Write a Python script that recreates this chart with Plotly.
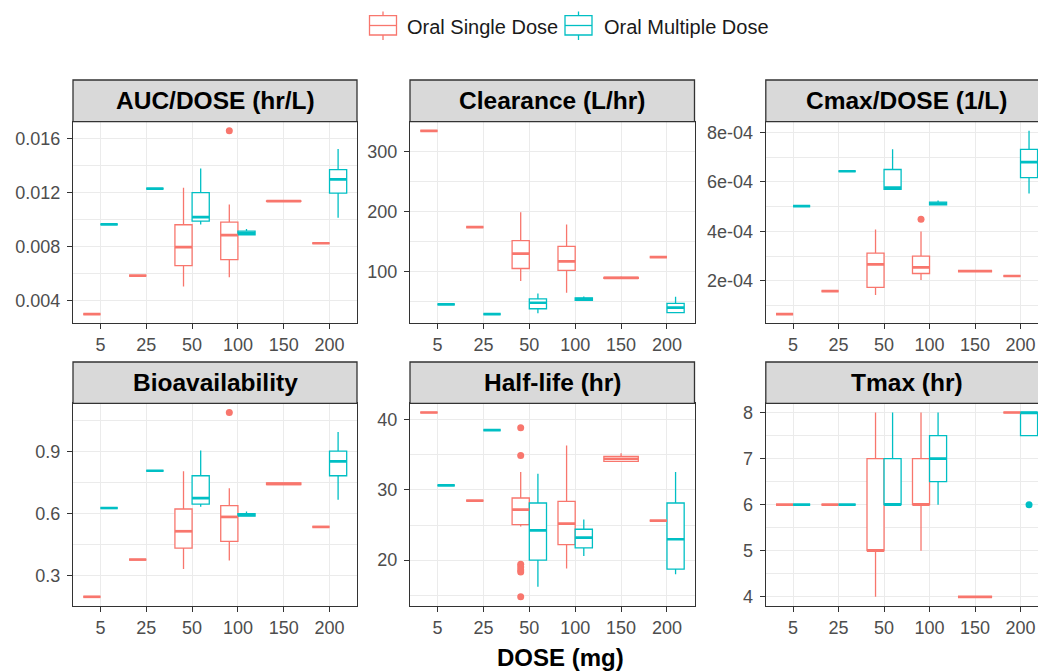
import plotly.graph_objects as go

W, H = 1038, 671

DOSES = [5, 25, 50, 100, 150, 200]
DOSE_LABELS = ["5", "25", "50", "100", "150", "200"]
GROUPS = ["Oral Single Dose", "Oral Multiple Dose"]
COLORS = ["#F8766D", "#00BFC4"]

# (dose, lower whisker, q1, median, q3, upper whisker)
AUC_SD = [(5, .00301, .00301, .00301, .00301, .00301),
          (25, .00586, .00586, .00586, .00586, .00586),
          (50, .00506, .00660, .00796, .00962, .01236),
          (100, .00573, .00704, .00885, .00981, .01112),
          (150, .01132, .01134, .01137, .01139, .01142),
          (200, .00825, .00825, .00825, .00825, .00825)]
AUC_MD = [(5, .00964, .00964, .00964, .00964, .00964),
          (25, .01229, .01229, .01229, .01229, .01229),
          (50, .00964, .00989, .01018, .01200, .01377),
          (100, .00885, .00888, .00900, .00915, .00930),
          (200, .01014, .01196, .01298, .01370, .01521)]
AUC_SD_OUT = [(100, .01656)]
AUC_MD_OUT = []

CL_SD = [(5, 334.3, 334.3, 334.3, 334.3, 334.3),
         (25, 174.0, 174.0, 174.0, 174.0, 174.0),
         (50, 84.0, 105.0, 129.8, 151.4, 198.9),
         (100, 64.5, 102.0, 117.0, 142.0, 178.4),
         (150, 88.0, 88.5, 89.3, 90.3, 91.5),
         (200, 124.0, 124.0, 124.0, 124.0, 124.0)]
CL_MD = [(5, 45.3, 45.3, 45.3, 45.3, 45.3),
         (25, 29.0, 29.0, 29.0, 29.0, 29.0),
         (50, 30.3, 38.0, 48.0, 54.5, 63.5),
         (100, 51.5, 52.0, 54.0, 56.0, 58.5),
         (200, 31.4, 31.4, 40.0, 46.9, 57.9)]
CL_SD_OUT = []
CL_MD_OUT = []

CMAX_SD = [(5, .66e-4, .66e-4, .66e-4, .66e-4, .66e-4),
           (25, 1.59e-4, 1.59e-4, 1.59e-4, 1.59e-4, 1.59e-4),
           (50, 1.43e-4, 1.74e-4, 2.67e-4, 3.12e-4, 4.08e-4),
           (100, 2.04e-4, 2.30e-4, 2.55e-4, 3.00e-4, 4.00e-4),
           (150, 2.40e-4, 2.40e-4, 2.40e-4, 2.40e-4, 2.40e-4),
           (200, 2.20e-4, 2.20e-4, 2.20e-4, 2.20e-4, 2.20e-4)]
CMAX_MD = [(5, 5.02e-4, 5.02e-4, 5.02e-4, 5.02e-4, 5.02e-4),
           (25, 6.43e-4, 6.43e-4, 6.43e-4, 6.43e-4, 6.43e-4),
           (50, 5.70e-4, 5.70e-4, 5.77e-4, 6.50e-4, 7.32e-4),
           (100, 5.05e-4, 5.07e-4, 5.12e-4, 5.18e-4, 5.25e-4),
           (200, 5.53e-4, 6.17e-4, 6.80e-4, 7.31e-4, 8.06e-4)]
CMAX_SD_OUT = [(100, 4.49e-4)]
CMAX_MD_OUT = []

BIO_SD = [(5, .200, .200, .200, .200, .200),
          (25, .379, .379, .379, .379, .379),
          (50, .334, .434, .515, .622, .803),
          (100, .374, .466, .584, .638, .722),
          (150, .737, .739, .743, .747, .750),
          (200, .536, .536, .536, .536, .536)]
BIO_MD = [(5, .627, .627, .627, .627, .627),
          (25, .806, .806, .806, .806, .806),
          (50, .633, .646, .674, .782, .903),
          (100, .586, .588, .594, .600, .610),
          (200, .666, .782, .851, .900, .992)]
BIO_SD_OUT = [(100, 1.086)]
BIO_MD_OUT = []

HL_SD = [(5, 41.04, 41.04, 41.04, 41.04, 41.04),
         (25, 28.47, 28.47, 28.47, 28.47, 28.47),
         (50, 24.8, 25.06, 27.2, 28.85, 32.55),
         (100, 18.8, 22.22, 25.2, 28.38, 36.35),
         (150, 34.07, 34.07, 34.45, 34.78, 35.25),
         (200, 25.63, 25.63, 25.63, 25.63, 25.63)]
HL_MD = [(5, 30.65, 30.65, 30.65, 30.65, 30.65),
         (25, 38.52, 38.52, 38.52, 38.52, 38.52),
         (50, 16.2, 19.99, 24.25, 28.14, 32.3),
         (100, 20.6, 21.74, 23.2, 24.4, 25.78),
         (200, 18.0, 18.71, 22.97, 28.14, 32.55)]
HL_SD_OUT = [(50, 38.86), (50, 34.92), (50, 19.4), (50, 19.0), (50, 18.6), (50, 18.3), (50, 14.77)]
HL_MD_OUT = []

TMAX_SD = [(5, 6, 6, 6, 6, 6),
           (25, 6, 6, 6, 6, 6),
           (50, 4, 5, 5, 7, 8),
           (100, 5, 6, 6, 7, 8),
           (150, 4, 4, 4, 4, 4),
           (200, 8, 8, 8, 8, 8)]
TMAX_MD = [(5, 6, 6, 6, 6, 6),
           (25, 6, 6, 6, 6, 6),
           (50, 6, 6, 6, 7, 8),
           (100, 6, 6.5, 7, 7.5, 8),
           (200, 7.5, 7.5, 8, 8, 8)]
TMAX_SD_OUT = []
TMAX_MD_OUT = [(200, 6)]

AUC_TICKS = [0.004, 0.008, 0.012, 0.016]
AUC_TICKTEXT = ["0.004", "0.008", "0.012", "0.016"]
CL_TICKS = [100, 200, 300]
CL_TICKTEXT = ["100", "200", "300"]
CMAX_TICKS = [2e-4, 4e-4, 6e-4, 8e-4]
CMAX_TICKTEXT = ["2e-04", "4e-04", "6e-04", "8e-04"]
BIO_TICKS = [0.3, 0.6, 0.9]
BIO_TICKTEXT = ["0.3", "0.6", "0.9"]
HL_TICKS = [20, 30, 40]
HL_TICKTEXT = ["20", "30", "40"]
TMAX_TICKS = [4, 5, 6, 7, 8]
TMAX_TICKTEXT = ["4", "5", "6", "7", "8"]

PANELS = [
    ("AUC/DOSE (hr/L)", AUC_SD, AUC_MD, AUC_SD_OUT, AUC_MD_OUT, AUC_TICKS, AUC_TICKTEXT),
    ("Clearance (L/hr)", CL_SD, CL_MD, CL_SD_OUT, CL_MD_OUT, CL_TICKS, CL_TICKTEXT),
    ("Cmax/DOSE (1/L)", CMAX_SD, CMAX_MD, CMAX_SD_OUT, CMAX_MD_OUT, CMAX_TICKS, CMAX_TICKTEXT),
    ("Bioavailability", BIO_SD, BIO_MD, BIO_SD_OUT, BIO_MD_OUT, BIO_TICKS, BIO_TICKTEXT),
    ("Half-life (hr)", HL_SD, HL_MD, HL_SD_OUT, HL_MD_OUT, HL_TICKS, HL_TICKTEXT),
    ("Tmax (hr)", TMAX_SD, TMAX_MD, TMAX_SD_OUT, TMAX_MD_OUT, TMAX_TICKS, TMAX_TICKTEXT),
]

# ---- layout geometry (pixels) ----
COLS_PX = [(73.0, 357.0), (410.0, 694.5), (765.8, 1047.8)]
ROWS_PX = [((80.0, 121.7), (121.7, 323.3)), ((362.0, 403.3), (403.3, 606.0))]
DODGE = 0.75
BORDER = "#333333"
GRID = "#EBEBEB"
FONT = "Liberation Sans"
TICKFONT = dict(family=FONT, size=18, color="#4D4D4D")

fig = go.Figure()
shapes, annotations = [], []


def px_x(v):
    return v / W


def px_y(v):
    return 1 - v / H


for k, (title, sd, md, sd_out, md_out, ticks, ticktext) in enumerate(PANELS, start=1):
    r, c = divmod(k - 1, 3)
    (st, sb), (pt, pb) = ROWS_PX[r]
    left, right = COLS_PX[c]
    xa, ya = f"x{k}", f"y{k}"
    groups = [sd, md]
    outs = [sd_out, md_out]
    present = [set(row[0] for row in g) for g in groups]

    def place(dose, gi):
        idx = DOSES.index(dose) + 1
        both = all(dose in p for p in present)
        if both:
            w = DODGE / 2
            return idx + (-w / 2 if gi == 0 else w / 2), w
        return idx, DODGE

    all_vals = []
    for gi, g in enumerate(groups):
        buckets = {}
        for row in g:
            pos, w = place(row[0], gi)
            buckets.setdefault(w, []).append((pos, row))
            all_vals += list(row[1:])
        for w, items in buckets.items():
            fig.add_trace(go.Box(
                x=[p for p, _ in items],
                lowerfence=[it[1] for _, it in items],
                q1=[it[2] for _, it in items],
                median=[it[3] for _, it in items],
                q3=[it[4] for _, it in items],
                upperfence=[it[5] for _, it in items],
                width=w, whiskerwidth=0, boxpoints=False,
                line=dict(color=COLORS[gi], width=1.3), fillcolor="white",
                xaxis=xa, yaxis=ya, showlegend=False, hoverinfo="skip",
                name=GROUPS[gi]))
    for gi, g in enumerate(groups):
        mx, my = [], []
        for row in g:
            pos, w = place(row[0], gi)
            mx += [pos - w / 2, pos + w / 2, None]
            my += [row[3], row[3], None]
        fig.add_trace(go.Scatter(x=mx, y=my, mode="lines",
                                 line=dict(color=COLORS[gi], width=2.7),
                                 xaxis=xa, yaxis=ya, showlegend=False, hoverinfo="skip"))
        if outs[gi]:
            ox = [place(d, gi)[0] for d, _ in outs[gi]]
            oy = [v for _, v in outs[gi]]
            all_vals += oy
            fig.add_trace(go.Scatter(x=ox, y=oy, mode="markers",
                                     marker=dict(color=COLORS[gi], size=7),
                                     xaxis=xa, yaxis=ya, showlegend=False, hoverinfo="skip"))

    lo, hi = min(all_vals), max(all_vals)
    span = hi - lo
    yrange = [lo - 0.05 * span, hi + 0.05 * span]
    unit = (right - left) / 6.2
    xr_end = 0.4 + (min(right, W) - left) / unit
    step = ticks[1] - ticks[0]

    fig.layout[f"xaxis{k}"] = dict(
        domain=[px_x(left), px_x(min(right, W))], anchor=ya, range=[0.4, xr_end],
        tickmode="array", tickvals=list(range(1, 7)), ticktext=DOSE_LABELS,
        showgrid=True, gridcolor=GRID, gridwidth=1.2, zeroline=False,
        showline=True, linecolor=BORDER, linewidth=1.3, mirror=True,
        ticks="outside", ticklen=5, tickwidth=1.3, tickcolor=BORDER,
        tickfont=TICKFONT, ticklabelstandoff=0, fixedrange=True)
    fig.layout[f"yaxis{k}"] = dict(
        domain=[px_y(pb), px_y(pt)], anchor=xa, range=yrange,
        tickmode="array", tickvals=ticks, ticktext=ticktext,
        minor=dict(tickmode="linear", tick0=ticks[0] - step / 2, dtick=step / 2,
                   showgrid=True, gridcolor=GRID, gridwidth=0.7, ticks=""),
        showgrid=True, gridcolor=GRID, gridwidth=1.2, zeroline=False,
        showline=True, linecolor=BORDER, linewidth=1.3, mirror=(c < 2),
        ticks="outside", ticklen=5, tickwidth=1.3, tickcolor=BORDER,
        tickfont=TICKFONT, ticklabelstandoff=3, fixedrange=True)

    # strip
    shapes.append(dict(type="rect", xref="paper", yref="paper",
                       x0=px_x(left), x1=px_x(right), y0=px_y(sb), y1=px_y(st),
                       fillcolor="#D9D9D9", line=dict(color=BORDER, width=1.3)))
    annotations.append(dict(text=f"<b>{title}</b>", xref="paper", yref="paper",
                            x=px_x((left + right) / 2), y=px_y((st + sb) / 2),
                            xanchor="center", yanchor="middle", showarrow=False,
                            font=dict(family=FONT, size=24.5, color="black")))

# x axis title
annotations.append(dict(text="<b>DOSE (mg)</b>", xref="paper", yref="paper",
                        x=px_x((COLS_PX[0][0] + COLS_PX[2][1]) / 2), y=px_y(657),
                        xanchor="center", yanchor="middle", showarrow=False,
                        font=dict(family=FONT, size=24, color="black")))

# legend (ggplot-style keys)
LEG_KEYS = [(369.5, 396.5, 405.0), (565.0, 592.0, 601.5)]
for gi, (k0, k1, tx) in enumerate(LEG_KEYS):
    col = COLORS[gi]
    cx = (k0 + k1) / 2
    shapes.append(dict(type="rect", xref="paper", yref="paper",
                       x0=px_x(k0), x1=px_x(k1), y0=px_y(35), y1=px_y(15.7),
                       fillcolor="white", line=dict(color=col, width=1.3)))
    shapes.append(dict(type="line", xref="paper", yref="paper",
                       x0=px_x(k0), x1=px_x(k1), y0=px_y(25.5), y1=px_y(25.5),
                       line=dict(color=col, width=1.3)))
    shapes.append(dict(type="line", xref="paper", yref="paper",
                       x0=px_x(cx), x1=px_x(cx), y0=px_y(15.7), y1=px_y(11.5),
                       line=dict(color=col, width=1.3)))
    shapes.append(dict(type="line", xref="paper", yref="paper",
                       x0=px_x(cx), x1=px_x(cx), y0=px_y(35), y1=px_y(40),
                       line=dict(color=col, width=1.3)))
    annotations.append(dict(text=GROUPS[gi], xref="paper", yref="paper",
                            x=px_x(tx), y=px_y(27), xanchor="left", yanchor="middle",
                            showarrow=False,
                            font=dict(family=FONT, size=20, color="#1A1A1A")))

fig.update_layout(width=W, height=H, margin=dict(l=0, r=0, t=0, b=0),
                  paper_bgcolor="white", plot_bgcolor="white",
                  shapes=shapes, annotations=annotations, showlegend=False)

fig.write_html("out.html", config=dict(displayModeBar=False))
